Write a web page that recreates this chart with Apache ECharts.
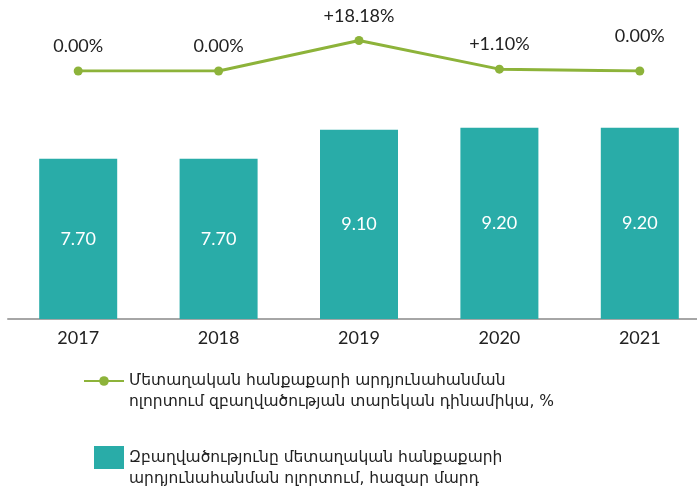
<!DOCTYPE html>
<html><head><meta charset="utf-8">
<script src="https://cdn.jsdelivr.net/npm/echarts@6/dist/echarts.min.js"></script>
<style>html,body{margin:0;padding:0;background:#fff}#c{width:697px;height:495px}</style>
</head><body><div id="c"></div>
<script>
var years = ['2017', '2018', '2019', '2020', '2021'];
var employment = [7.70, 7.70, 9.10, 9.20, 9.20];
var dynamics = [0.00, 0.00, 18.18, 1.10, 0.00];
var lineName = 'Մետաղական հանքաքարի արդյունահանման\nոլորտում զբաղվածության տարեկան դինամիկա, %';
var barName = 'Զբաղվածությունը մետաղական հանքաքարի\nարդյունահանման ոլորտում, հազար մարդ';

var teal = '#29aca8', green = '#8db33a', ink = '#222222';
var numFont = 'Lato';
var lineData = dynamics.map(function (v, i) {
  var d = { value: v };
  if (i === dynamics.length - 1) d.label = { distance: 21 };
  return d;
});
var legendText = { fontFamily: 'DejaVu Sans', fontSize: 15.5, lineHeight: 21, color: ink };
function shiftDown(name) { return '\n' + name; }

var chart = echarts.init(document.getElementById('c'), null, { renderer: 'canvas' });
chart.setOption({
  animation: false,
  backgroundColor: '#ffffff',
  legend: [
    { data: [lineName], left: 83, top: 349.5, padding: 0, itemWidth: 40, itemHeight: 12, orient: 'vertical',
      formatter: shiftDown, textStyle: legendText },
    { data: [{ name: barName, icon: 'rect' }], left: 94, top: 426, padding: 0, itemWidth: 30, itemHeight: 23, orient: 'vertical',
      formatter: shiftDown, textStyle: legendText }
  ],
  grid: [
    { left: 8, right: -13, top: 111, height: 208, outerBoundsMode: 'none', containLabel: false },
    { left: 8, right: -13, top: 37.4, height: 33.6, outerBoundsMode: 'none', containLabel: false }
  ],
  xAxis: [
    { gridIndex: 0, type: 'category', data: years,
      axisLine: { lineStyle: { color: '#a6a6a6', width: 2 } }, axisTick: { show: false },
      axisLabel: { fontFamily: numFont, fontSize: 18, color: ink, margin: 10 } },
    { gridIndex: 1, type: 'category', data: years, show: false }
  ],
  yAxis: [
    { gridIndex: 0, type: 'value', min: 0, max: 10, show: false, splitLine: { show: false } },
    { gridIndex: 1, type: 'value', min: 0, max: 20, show: false, splitLine: { show: false } }
  ],
  series: [
    { name: lineName, type: 'line', xAxisIndex: 1, yAxisIndex: 1, data: lineData,
      symbol: 'circle', symbolSize: 9, itemStyle: { color: green },
      lineStyle: { color: green, width: 3 },
      label: { show: true, position: 'top', distance: 11, fontFamily: numFont, fontSize: 18, color: ink,
        formatter: function (p) { var v = p.value; return (v > 0 ? '+' : '') + v.toFixed(2) + '%'; } } },
    { name: barName, type: 'bar', xAxisIndex: 0, yAxisIndex: 0, data: employment, barWidth: 78,
      itemStyle: { color: teal },
      label: { show: true, position: 'inside', fontFamily: numFont, fontSize: 18, color: '#ffffff',
        formatter: function (p) { return p.value.toFixed(2); } } }
  ]
});
</script></body></html>
